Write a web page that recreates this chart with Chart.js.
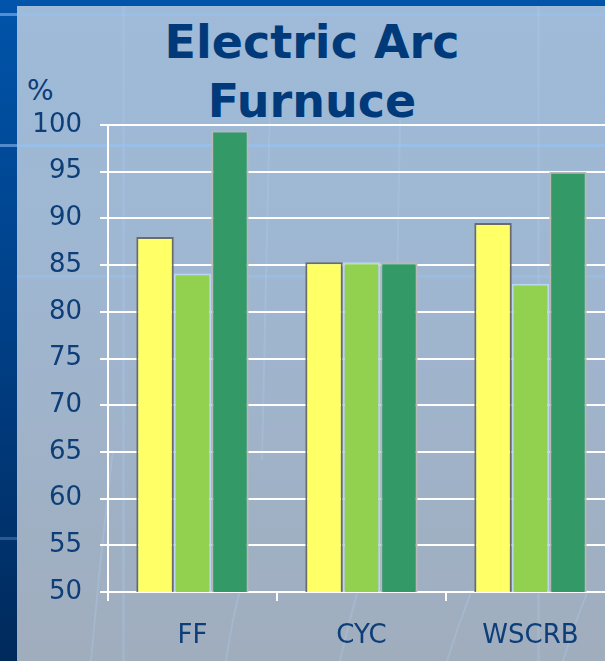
<!DOCTYPE html>
<html>
<head>
<meta charset="utf-8">
<script src="https://cdn.jsdelivr.net/npm/chart.js@4/dist/chart.umd.min.js"></script>
<style>
  html, body { margin: 0; padding: 0; width: 605px; height: 661px; overflow: hidden; }
  body { position: relative; background: linear-gradient(#9ebbd9 0%, #9fb6d0 45%, #a0adbd 100%); font-family: "DejaVu Sans", Verdana, sans-serif; }
  .stripe { position: absolute; left: 0; top: 0; width: 17px; height: 661px; background: linear-gradient(#0054aa, #003f86 50%, #002a5c); }
  .band { position: absolute; left: 0; top: 0; width: 605px; height: 6px; background: #0054aa; }
  .hl { position: absolute; left: 0; width: 605px; height: 3px; background: rgba(150,195,245,0.55); }
  .vl { position: absolute; top: 6px; width: 3px; height: 655px; background: rgba(170,205,240,0.25); }
  .title { position: absolute; left: 112px; top: 13px; width: 400px; text-align: center; color: #003a7a; font: bold 46px/59px "DejaVu Sans", Verdana, sans-serif; }
  .unit { position: absolute; left: 27px; top: 74px; color: #0d3e78; font: 28px "DejaVu Sans", Verdana, sans-serif; }
  svg.deco { position: absolute; left: 0; top: 0; }
  canvas { position: absolute; left: 0; top: 0; }
</style>
</head>
<body>
<div class="stripe"></div>
<div class="band"></div>
<div class="hl" style="top:13px"></div>
<div class="hl" style="top:144px"></div>
<div class="hl" style="top:275px; left:17px; opacity:0.8"></div>
<div class="hl" style="top:537px; width:17px; opacity:0.5"></div>
<div class="vl" style="left:122px"></div>
<div class="vl" style="left:537px"></div>
<svg class="deco" width="605" height="661">
  <g fill="none" stroke="rgba(175,205,240,0.3)" stroke-width="2">
    <path d="M91 661 Q100 560 113 450"/>
    <path d="M226 661 Q232 620 240 590"/>
    <path d="M340 661 Q348 625 358 590"/>
    <path d="M447 661 Q458 625 472 590"/>
    <path d="M563 661 Q574 625 588 590"/>
    <path d="M270 100 Q267 260 262 460"/>
    <path d="M400 120 Q398 260 394 460"/>
  </g>
</svg>
<div class="title">Electric Arc<br>Furnuce</div>
<div class="unit">%</div>
<canvas id="c" width="630" height="661"></canvas>
<script>
const categories = ["FF", "CYC", "WSCRB"];
const seriesA = [88, 85.3, 89.5];
const seriesB = [84.1, 85.3, 83];
const seriesC = [99.4, 85.3, 95];
const yTicks = [50, 55, 60, 65, 70, 75, 80, 85, 90, 95, 100];

const textColor = "#0d3e78";
const tickFont = { family: "'DejaVu Sans', Verdana, sans-serif", size: 26 };

new Chart(document.getElementById("c"), {
  type: "bar",
  data: {
    labels: categories,
    datasets: [
      { data: seriesA, backgroundColor: "#ffff66", borderColor: "#6b6b6b", borderWidth: 2 },
      { data: seriesB, backgroundColor: "#92d050", borderColor: "#b8d6f2", borderWidth: 2 },
      { data: seriesC, backgroundColor: "#339966", borderColor: "#b8b8b8", borderWidth: 2 }
    ]
  },
  options: {
    responsive: false,
    animation: false,
    events: [],
    categoryPercentage: 0.665,
    barPercentage: 1,
    layout: { padding: { top: 125, right: 15, left: 0, bottom: 0 } },
    plugins: { legend: { display: false }, tooltip: { enabled: false }, title: { display: false } },
    scales: {
      x: {
        offset: true,
        grid: { display: true, drawOnChartArea: false, color: "#ffffff", lineWidth: 2, tickLength: 9, offset: true },
        border: { display: true, color: "#ffffff", width: 2 },
        ticks: { color: textColor, font: tickFont, padding: 20 },
        afterFit: s => { s.height = 69; }
      },
      y: {
        min: 50,
        max: 100,
        afterBuildTicks: s => { s.ticks = yTicks.map(v => ({ value: v })); },
        grid: { color: "#ffffff", lineWidth: 2, tickLength: 8 },
        border: { display: true, color: "#ffffff", width: 2 },
        ticks: { color: textColor, font: tickFont, padding: 18 },
        afterFit: s => { s.width = 108; }
      }
    }
  }
});
</script>
</body>
</html>
